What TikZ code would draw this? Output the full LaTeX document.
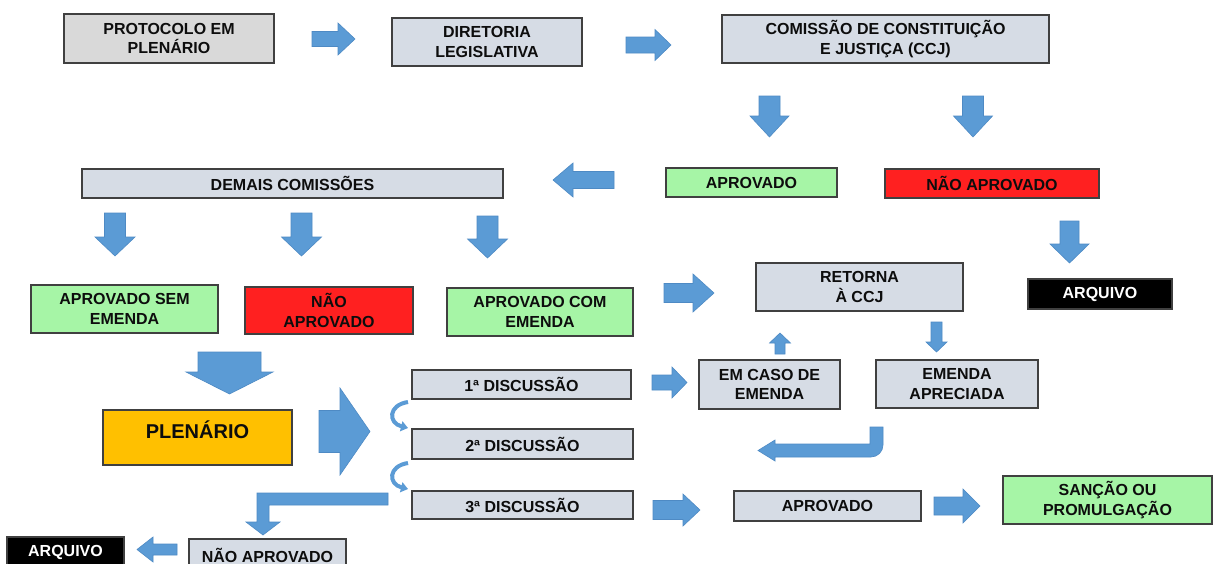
\documentclass[tikz,border=0pt]{standalone}
\usepackage{fontspec}
\setmainfont{Liberation Sans}
\usetikzlibrary{arrows.meta}
\definecolor{bluegray}{RGB}{214,220,229}
\definecolor{lgray}{RGB}{217,217,217}
\definecolor{lgreen}{RGB}{166,245,166}
\definecolor{bred}{RGB}{255,32,32}
\definecolor{gold}{RGB}{255,192,0}
\definecolor{arrowblue}{RGB}{91,155,213}
\definecolor{arrowedge}{RGB}{78,138,196}
\definecolor{boxline}{RGB}{64,64,64}
\tikzset{
  box/.style={draw=boxline, line width=1.4pt, fill=#1, inner sep=0pt, align=center,
    text=black!95, font=\bfseries\fontsize{16}{19.5}\selectfont},
  arrowstyle/.style={fill=arrowblue, draw=arrowedge, line width=0.6pt},
  curvy/.style={draw=arrowblue, line width=4pt, -{Triangle[length=7pt,width=10pt]}},
  pics/barrow/.style n args={4}{code={
    \filldraw[arrowstyle] (0,-#2) -- ({#1-#4},-#2) -- ({#1-#4},-#3) -- (#1,0)
      -- ({#1-#4},#3) -- ({#1-#4},#2) -- (0,#2) -- cycle;
  }}
}
\begin{document}
\begin{tikzpicture}[x=1pt,y=-1pt]
\useasboundingbox (0,0) rectangle (1213,563);
\clip (0,0) rectangle (1213,563);
\fill[white] (0,0) rectangle (1213,563);

% boxes
\node[box=lgray, minimum width=210pt, minimum height=49pt] (prot) at (169,38.5) {PROTOCOLO EM\\PLENÁRIO};
\node[box=bluegray, minimum width=190pt, minimum height=48pt] (dir) at (487,42) {DIRETORIA\\LEGISLATIVA};
\node[box=bluegray, minimum width=327pt, minimum height=48pt] (ccj) at (885.5,39) {COMISSÃO DE CONSTITUIÇÃO\\E JUSTIÇA (CCJ)};
\node[box=bluegray, minimum width=421pt, minimum height=29pt] (dem) at (292.5,183.5) {DEMAIS COMISSÕES};
\node[box=lgreen, minimum width=171pt, minimum height=29pt] (ap1) at (751.5,182.5) {APROVADO};
\node[box=bred, minimum width=214pt, minimum height=29pt] (na1) at (992,183.5) {NÃO APROVADO};
\node[box=black, text=white, minimum width=144pt, minimum height=30pt] (ar1) at (1100,294) {ARQUIVO};
\node[box=lgreen, minimum width=187pt, minimum height=48pt] (sem) at (124.5,309) {APROVADO SEM\\EMENDA};
\node[box=bred, minimum width=168pt, minimum height=47pt] (na2) at (329,310.5) {NÃO\\APROVADO};
\node[box=lgreen, minimum width=186pt, minimum height=48pt] (com) at (540,312) {APROVADO COM\\EMENDA};
\node[box=bluegray, minimum width=207pt, minimum height=48pt] (ret) at (859.5,287) {RETORNA\\À CCJ};
\node[box=bluegray, minimum width=141pt, minimum height=49pt] (cas) at (769.5,384.5) {EM CASO DE\\EMENDA};
\node[box=bluegray, minimum width=162pt, minimum height=48pt] (apr) at (957,384) {EMENDA\\APRECIADA};
\node[box=bluegray, minimum width=219pt, minimum height=29pt] (d1) at (521.5,384.5) {1ª DISCUSSÃO};
\node[box=gold, minimum width=189pt, minimum height=55pt, font=\bfseries\fontsize{20}{22}\selectfont] (plen) at (197.5,437.5) {\raisebox{15pt}{PLENÁRIO}};
\node[box=bluegray, minimum width=221pt, minimum height=30pt] (d2) at (522.5,444) {2ª DISCUSSÃO};
\node[box=bluegray, minimum width=221pt, minimum height=28pt] (d3) at (522.5,505) {3ª DISCUSSÃO};
\node[box=bluegray, minimum width=187pt, minimum height=30pt] (ap2) at (827.5,506) {APROVADO};
\node[box=lgreen, minimum width=209pt, minimum height=48pt] (san) at (1107.5,500) {SANÇÃO OU\\PROMULGAÇÃO};
\node[box=bluegray, minimum width=157pt, minimum height=32pt] (na3) at (267.5,555) {NÃO APROVADO};
\node[box=black, text=white, minimum width=117pt, minimum height=30pt] (ar2) at (65.5,552) {ARQUIVO};

% block arrows
\pic at (312,39) {barrow={43}{7.5}{16}{17}};
\pic at (626,45) {barrow={45}{8}{15.5}{16}};
\pic[rotate=-90] at (769.5,96) {barrow={41}{10.5}{19.5}{21}};
\pic[rotate=-90] at (973,96) {barrow={41}{10.5}{19.5}{21}};
\pic[rotate=180] at (614,180) {barrow={61}{8.5}{17}{20}};
\pic[rotate=-90] at (1069.5,221) {barrow={42}{9.5}{19.5}{19}};
\pic[rotate=-90] at (115,213) {barrow={43}{10.5}{20}{19}};
\pic[rotate=-90] at (301.5,213) {barrow={43}{10.5}{20}{19}};
\pic[rotate=-90] at (487.5,216) {barrow={42}{10.5}{20}{19}};
\pic at (664,293) {barrow={50}{9.5}{19}{21}};
\pic[rotate=90] at (780,354) {barrow={21}{5}{10.5}{10}};
\pic[rotate=-90] at (936.5,322) {barrow={30}{5.5}{10.5}{10}};
\pic[rotate=-90] at (229.5,352) {barrow={42}{31.5}{43.5}{22}};
\pic at (319,431.5) {barrow={51}{21}{43.5}{30}};
\pic at (652,382.5) {barrow={35}{7.5}{15.5}{15}};
\pic at (653,510) {barrow={47}{9.5}{16}{17}};
\pic at (934,506) {barrow={46}{9}{17}{17}};
\pic[rotate=180] at (177,549.5) {barrow={40}{5.5}{12.5}{16}};

% bent arrows
\filldraw[arrowstyle] (870,427) -- (883,427) -- (883,445) arc[start angle=0,end angle=90,radius=12]
  -- (775,457) -- (775,461) -- (758,450.5) -- (775,440) -- (775,444) -- (870,444) -- cycle;
\filldraw[arrowstyle] (388,493) -- (388,505) -- (269,505) -- (269,522) -- (280,522) -- (263,535)
  -- (246,522) -- (257,522) -- (257,493) -- cycle;

% curved arrows
\draw[curvy] (408,402) .. controls (388,405) and (388,423) .. (408,428);
\draw[curvy] (408,463) .. controls (388,466) and (388,484) .. (408,489);
\end{tikzpicture}
\end{document}
